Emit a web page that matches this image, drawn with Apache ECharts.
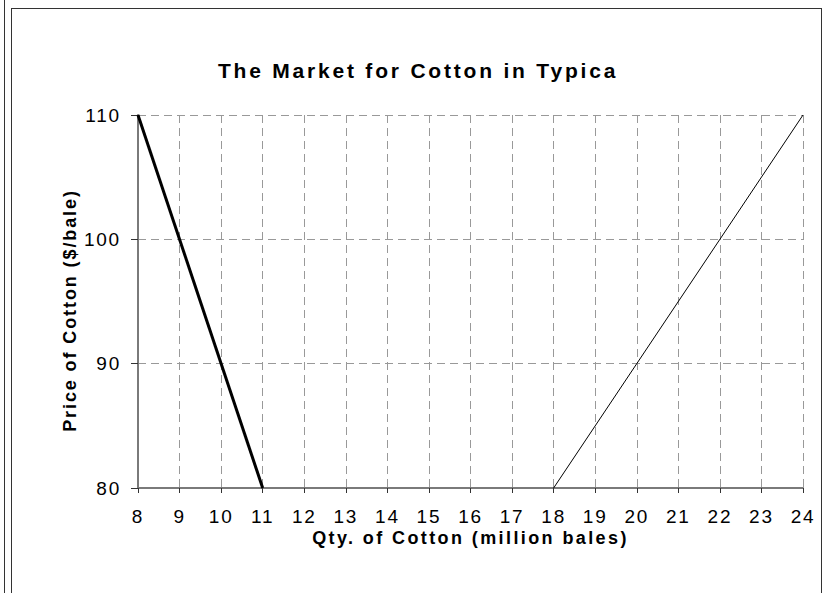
<!DOCTYPE html>
<html>
<head>
<meta charset="utf-8">
<script src="https://cdn.jsdelivr.net/npm/echarts@6/dist/echarts.min.js"></script>
<style>
  html, body { margin: 0; padding: 0; background: #ffffff; }
  #main { width: 823px; height: 593px; }
</style>
</head>
<body>
<div id="main"></div>
<script>
// demand and supply lines (qty in million bales, price in $/bale)
var demandQty = [8, 11];
var demandPrice = [110, 80];
var supplyQty = [18, 24];
var supplyPrice = [80, 110];

var xTicks = [8, 24, 1];     // min, max, step
var yTicks = [80, 110, 10];

var titleText = 'The Market for Cotton in Typica';
var xName = 'Qty. of Cotton (million bales)';
var yName = 'Price of Cotton ($/bale)';

function pairs(xs, ys) {
  var out = [];
  for (var i = 0; i < xs.length; i++) out.push([xs[i], ys[i]]);
  return out;
}

// svg renderer so the wide excel-like letter spacing can be applied to the texts
var chart = echarts.init(document.getElementById('main'), null, { renderer: 'svg' });

var font = 'Liberation Sans, Arial, sans-serif';

chart.setOption({
  backgroundColor: '#ffffff',
  animation: false,
  title: {
    text: titleText,
    left: 413,
    top: 55,
    textAlign: 'center',
    textStyle: { fontFamily: font, fontSize: 21, fontWeight: 'bold', color: '#000' }
  },
  grid: { left: 138, right: 20, top: 115, bottom: 105 },
  xAxis: {
    type: 'value',
    min: xTicks[0], max: xTicks[1], interval: xTicks[2],
    name: xName,
    nameLocation: 'middle',
    nameGap: 41,
    nameMoveOverlap: false,
    nameTextStyle: { fontFamily: font, fontSize: 18, fontWeight: 'bold', color: '#000' },
    axisLine: { lineStyle: { color: '#7a7a7a', width: 2 } },
    axisTick: { length: 5, lineStyle: { color: '#333', width: 1 } },
    axisLabel: { fontFamily: font, fontSize: 19, color: '#000', margin: 19 },
    splitLine: { show: true, lineStyle: { color: '#999', type: [8, 5], width: 1 } }
  },
  yAxis: {
    type: 'value',
    min: yTicks[0], max: yTicks[1], interval: yTicks[2],
    name: yName,
    nameLocation: 'middle',
    nameGap: 59,
    nameMoveOverlap: false,
    nameTextStyle: {
      fontFamily: font, fontSize: 18, fontWeight: 'bold', color: '#000',
      padding: [0, 18, 0, 0]
    },
    axisLine: { show: true, lineStyle: { color: '#7a7a7a', width: 2 } },
    axisTick: { show: true, length: 7, lineStyle: { color: '#333', width: 1 } },
    axisLabel: { fontFamily: font, fontSize: 19, color: '#000', margin: 17 },
    splitLine: { show: true, lineStyle: { color: '#999', type: [8, 5], width: 1 } }
  },
  series: [
    {
      name: 'Demand',
      type: 'line',
      data: pairs(demandQty, demandPrice),
      symbol: 'none',
      lineStyle: { color: '#000', width: 3 }
    },
    {
      name: 'Supply',
      type: 'line',
      data: pairs(supplyQty, supplyPrice),
      symbol: 'none',
      lineStyle: { color: '#000', width: 1 }
    }
  ],
  graphic: [
    { type: 'line', shape: { x1: 4.5, y1: 0, x2: 4.5, y2: 593 }, style: { stroke: '#333', lineWidth: 1 } },
    { type: 'line', shape: { x1: 11.5, y1: 8, x2: 11.5, y2: 593 }, style: { stroke: '#333', lineWidth: 1 } },
    { type: 'line', shape: { x1: 11, y1: 8.5, x2: 821, y2: 8.5 }, style: { stroke: '#333', lineWidth: 1 } },
    { type: 'line', shape: { x1: 821.5, y1: 8, x2: 821.5, y2: 593 }, style: { stroke: '#333', lineWidth: 1 } }
  ]
});

// spread the letters like the original
function spreadText() {
  var texts = document.querySelectorAll('#main text');
  texts.forEach(function (t) {
    var s = t.textContent;
    if (s === titleText) t.style.letterSpacing = '2.8px';
    else if (s === xName) t.style.letterSpacing = '2.4px';
    else if (s === yName) t.style.letterSpacing = '1.9px';
    else t.style.letterSpacing = '1.8px';
  });
}
spreadText();
chart.on('finished', spreadText);
</script>
</body>
</html>
